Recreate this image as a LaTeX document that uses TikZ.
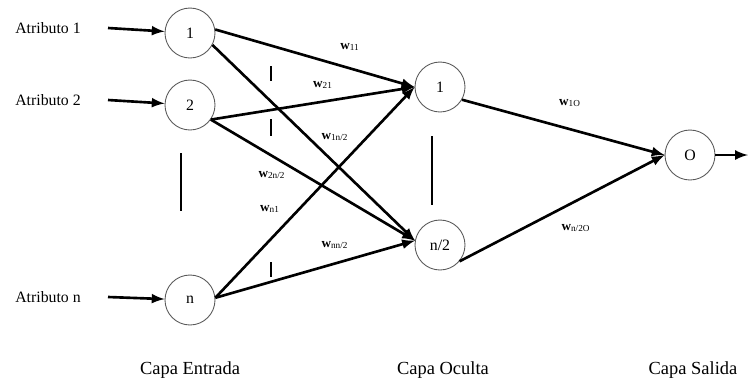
\documentclass[tikz,border=0pt]{standalone}
\usepackage{fontspec}
\setmainfont{Liberation Serif}
\usetikzlibrary{positioning}
\usetikzlibrary{shapes,arrows}

\begin{document}
\begin{tikzpicture}[x=0.02cm,y=-0.02cm,
  neuron/.style={circle,draw=black!65,line width=0.5pt,minimum size=1cm,inner sep=0pt,font=\fontsize{9}{10}\selectfont},
  syn/.style={-latex,line width=1.5pt},
  wlab/.style={inner sep=0pt,font=\fontsize{7.5}{8}\selectfont},
  attr/.style={inner sep=0pt,font=\fontsize{9}{10}\selectfont},
  layer/.style={inner sep=0pt,font=\fontsize{10.5}{12}\selectfont}]
  \useasboundingbox (0,0) rectangle (748,383);
  % capa de entrada
  \node[neuron](i1) at (190,33) {1};
  \node[neuron](i2) at (190,105) {2};
  \node[neuron](in) at (190,300) {n};
  % capa oculta
  \node[neuron](h1) at (440,87) {1};
  \node[neuron](h2) at (440,245) {n/2};
  % capa de salida
  \node[neuron](o) at (690,155) {O};
  \coordinate (oend) at (748,155);
  % atributos
  \node[attr](a1) at (48,28) {Atributo 1};
  \node[attr](a2) at (48,100) {Atributo 2};
  \node[attr](an) at (48,297) {Atributo n};
  \coordinate (s1) at (108,28);
  \coordinate (s2) at (108,100);
  \coordinate (sn) at (108,297);
  \draw[syn] (s1) -- (i1);
  \draw[syn] (s2) -- (i2);
  \draw[syn] (sn) -- (in);
  % conexiones
  \draw[syn] (i1.8) -- (h1.west);
  \draw[syn] (i1.-28) -- (h2.170);
  \draw[syn] (i2.-35) -- (h1.west);
  \draw[syn] (i2.-35) -- (h2.170);
  \draw[syn] (in.5) -- (h1.west);
  \draw[syn] (in.5) -- (h2.170);
  \draw[syn] (h1.-30) -- (o.west);
  \draw[syn] (h2.-40) -- (o.west);
  \draw[syn] (o) -- (oend);
  % pesos
  \node[wlab](w11) at (350,47) {\textbf{w}\textsubscript{11}};
  \node[wlab](w21) at (323,85) {\textbf{w}\textsubscript{21}};
  \node[wlab](w1h) at (335,137) {\textbf{w}\textsubscript{1n/2}};
  \node[wlab](w2h) at (272,175) {\textbf{w}\textsubscript{2n/2}};
  \node[wlab](wn1) at (270,209) {\textbf{w}\textsubscript{n1}};
  \node[wlab](wnh) at (335,245) {\textbf{w}\textsubscript{nn/2}};
  \node[wlab](w1o) at (570,103) {\textbf{w}\textsubscript{1O}};
  \node[wlab](who) at (576,228) {\textbf{w}\textsubscript{n/2O}};
  % puntos suspensivos
  \draw[line width=1pt] (181,153) -- (181,211);
  \draw[line width=1pt] (432,136) -- (432,205);
  \draw[line width=1.5pt] (271,66) -- (271,81);
  \draw[line width=1.5pt] (271,119) -- (271,136);
  \draw[line width=1.5pt] (271,262) -- (271,277);
  % capas
  \node[layer](le) at (190,370) {Capa Entrada};
  \node[layer](lo) at (443,370) {Capa Oculta};
  \node[layer](ls) at (693,370) {Capa Salida};
\end{tikzpicture}
\end{document}
